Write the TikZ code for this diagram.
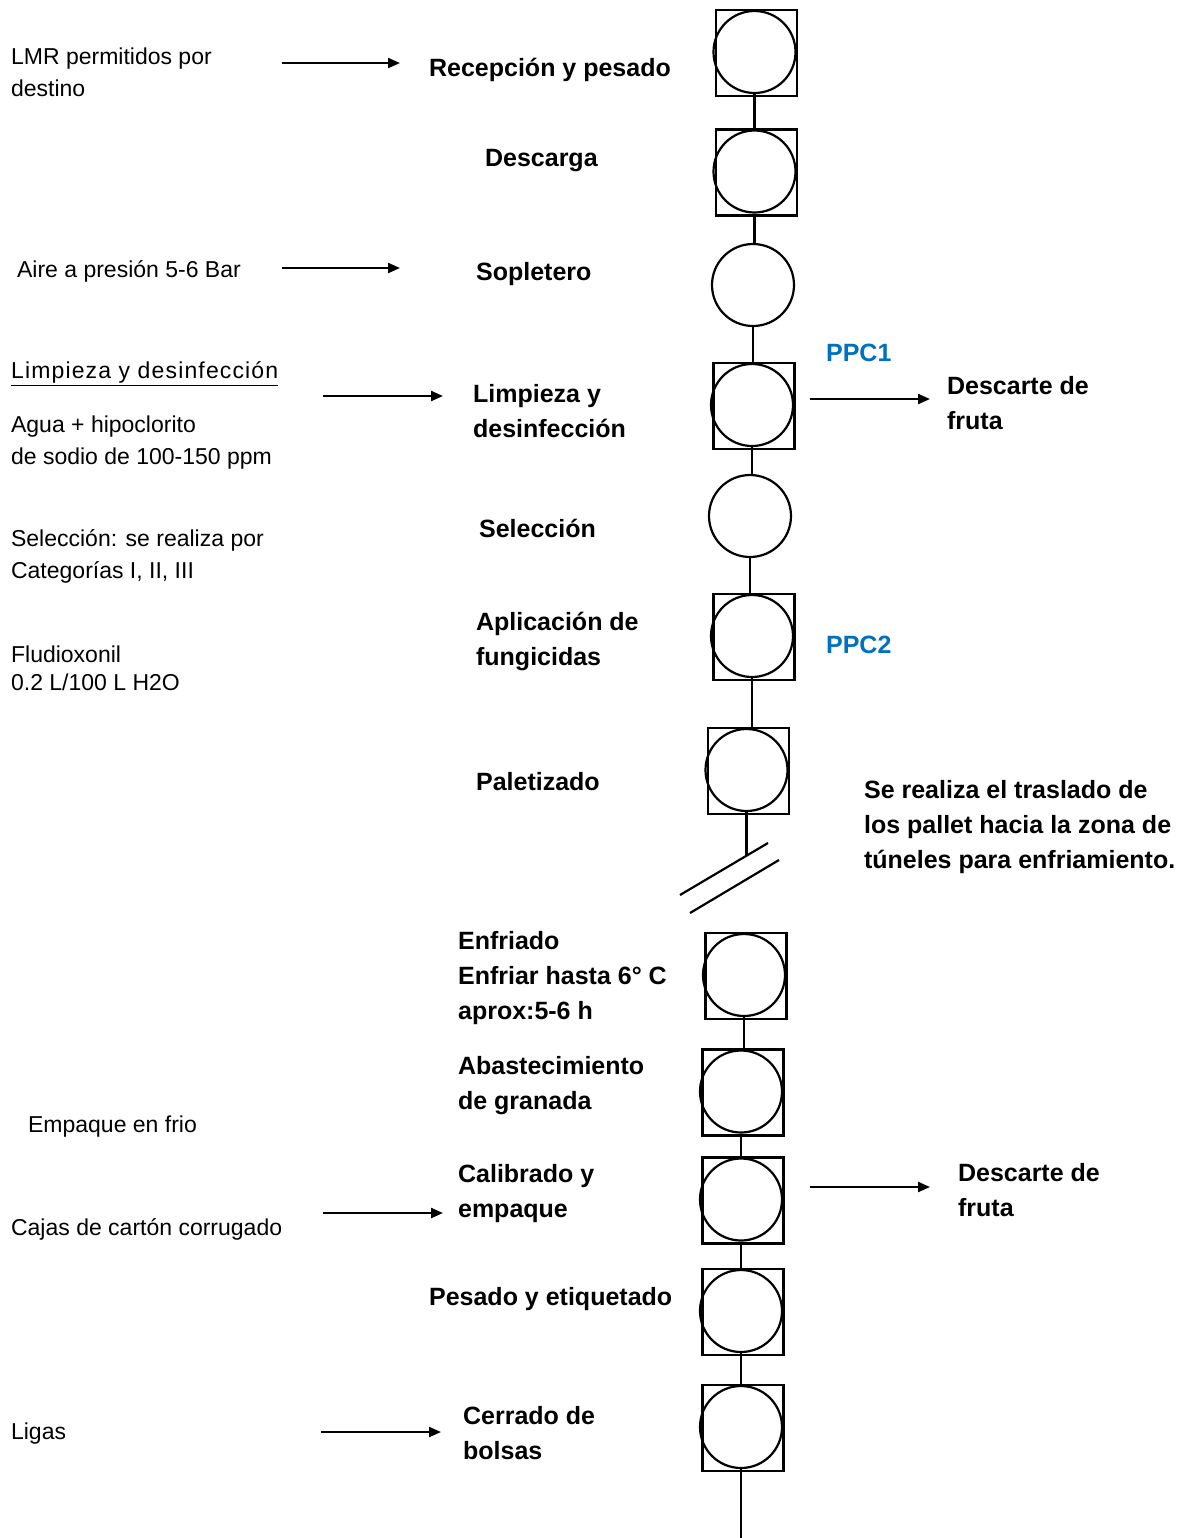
\documentclass[tikz,border=0pt]{standalone}
\usepackage{fontspec}
\setmainfont{Liberation Sans}
\usepackage{tikz}
\usetikzlibrary{positioning,calc,arrows.meta}
\definecolor{ppcblue}{RGB}{0,112,192}
\tikzset{
  stepbox/.style   = {draw, rectangle, minimum width=40.5pt, minimum height=43pt, inner sep=0pt},
  stepcirc/.style  = {draw, circle, minimum size=41pt, inner sep=0pt},
  steplabel/.style = {inner sep=0pt, anchor=west, align=left, yshift=-1.5pt, font=\fontsize{12.5}{17.5}\selectfont\bfseries},
  sidenote/.style  = {inner sep=0pt, anchor=west, align=left, font=\fontsize{11.5}{16}\selectfont},
  ppc/.style       = {steplabel, text=ppcblue},
  flow/.style      = {->},
  >={Triangle[length=6pt,width=5pt]}
}
\newcommand{\DrawStep}[2]{%
  % draws the square frame of the step
  \node[stepbox]  (#1)   at #2 {};
  % draws the circle inside the frame
  \node[stepcirc] (#1-c) at ($(#1.center)+(-2,-1)$) {};
}

\begin{document}
\begin{tikzpicture}[x=0.5pt,y=-0.5pt,line width=1.1pt]
    \useasboundingbox (0,0) rectangle (1193,1538);

    % process column
    \DrawStep{recep}{(756.5,53)}
    \DrawStep{desc}{(756.5,172.5)}
    \node[stepcirc] (sople) at (753,285) {};
    \DrawStep{limp}{(754,406)}
    \node[stepcirc] (selec) at (750,516) {};
    \DrawStep{aplic}{(754,637)}
    \DrawStep{palet}{(748.5,771)}
    \DrawStep{enfr}{(746,976)}
    \DrawStep{abast}{(743,1092.5)}
    \DrawStep{calib}{(743,1200.5)}
    \DrawStep{pesad}{(743,1312)}
    \DrawStep{cerr}{(743,1428)}

    \coordinate (brk) at (746,855);
    \coordinate (fin) at (742,1538);

    \draw (recep-c.south) -- (recep-c.south |- desc.north);
    \draw (desc-c.south)  -- (desc-c.south |- sople.north);
    \draw (sople.south)   -- (sople.south |- limp.north);
    \draw (limp-c.south)  -- (limp-c.south |- selec.north);
    \draw (selec.south)   -- (selec.south |- aplic.north);
    \draw (aplic-c.south) -- (aplic-c.south |- palet.north);
    \draw (palet-c.south) -- (palet-c.south |- brk);
    \draw (enfr-c.south)  -- (enfr-c.south |- abast.north);
    \draw (abast-c.south) -- (abast-c.south |- calib.north);
    \draw (calib-c.south) -- (calib-c.south |- pesad.north);
    \draw (pesad-c.south) -- (pesad-c.south |- cerr.north);
    \draw (cerr-c.south)  -- (cerr-c.south |- fin);

    % break in the line
    \draw (680,895) -- (768,843);
    \draw (690,913) -- (779,860);

    % step names
    \node[steplabel] (recepL) at (428,67)   {Recepción y pesado};
    \node[steplabel] (descL)  at (484,158)  {Descarga};
    \node[steplabel] (sopleL) at (475,271)  {Sopletero};
    \node[steplabel] (limpL)  at (472,408)  {Limpieza y\\desinfección};
    \node[steplabel] (selecL) at (478,525)  {Selección};
    \node[steplabel] (aplicL) at (475,638)  {Aplicación de\\fungicidas};
    \node[steplabel] (paletL) at (475,779)  {Paletizado};
    \node[steplabel] (enfrL)  at (457,975)  {Enfriado\\Enfriar hasta 6° C\\aprox:5-6 h};
    \node[steplabel] (abastL) at (457,1083) {Abastecimiento\\de granada};
    \node[steplabel] (calibL) at (457,1191) {Calibrado y\\empaque};
    \node[steplabel] (pesadL) at (428,1296) {Pesado y etiquetado};
    \node[steplabel] (cerrL)  at (462,1430) {Cerrado de\\bolsas};

    % right side
    \node[ppc]       (ppc1)   at (825,350)  {PPC1};
    \node[ppc]       (ppc2)   at (825,642)  {PPC2};
    \node[steplabel] (desc1)  at (946,400)  {Descarte de\\fruta};
    \node[steplabel] (desc2)  at (957,1187) {Descarte de\\fruta};
    \node[steplabel] (trasl)  at (863,824)  {Se realiza el traslado de\\los pallet hacia la zona de\\túneles para enfriamiento.};

    % left side
    \node[sidenote] (lmr)   at (10,72)   {LMR permitidos por\\destino};
    \node[sidenote] (aire)  at (16,271)  {Aire a presión 5-6 Bar};
    \node[sidenote] (limpH) at (10,374)  {\addfontfeature{LetterSpace=5}\underline{Limpieza y desinfección}};
    \node[sidenote] (agua)  at (10,443)  {Agua + hipoclorito\\de sodio de 100-150 ppm};
    \node[sidenote] (selH)  at (10,556)  {Selección: se realiza por\\Categorías I, II, III};
    \node[sidenote] (flud)  at (10,668)  {Fludioxonil\\[-2pt]0.2 L/100 L H2O};
    \node[sidenote] (emp)   at (27,1127) {Empaque en frio};
    \node[sidenote] (cajas) at (10,1229) {Cajas de cartón corrugado};
    \node[sidenote] (ligas) at (10,1434) {Ligas};

    % arrow ends
    \coordinate (t1) at (282,63);   \coordinate (h1) at (400,63);
    \coordinate (t2) at (282,268);  \coordinate (h2) at (400,268);
    \coordinate (t3) at (323,396);  \coordinate (h3) at (443,396);
    \coordinate (t4) at (810,399);  \coordinate (h4) at (930,399);
    \coordinate (t5) at (323,1213); \coordinate (h5) at (443,1213);
    \coordinate (t6) at (810,1187); \coordinate (h6) at (930,1187);
    \coordinate (t7) at (321,1432); \coordinate (h7) at (441,1432);

    \foreach \i in {1,...,7}
      \draw[flow] (t\i) -- (h\i);
  \end{tikzpicture}
\end{document}
